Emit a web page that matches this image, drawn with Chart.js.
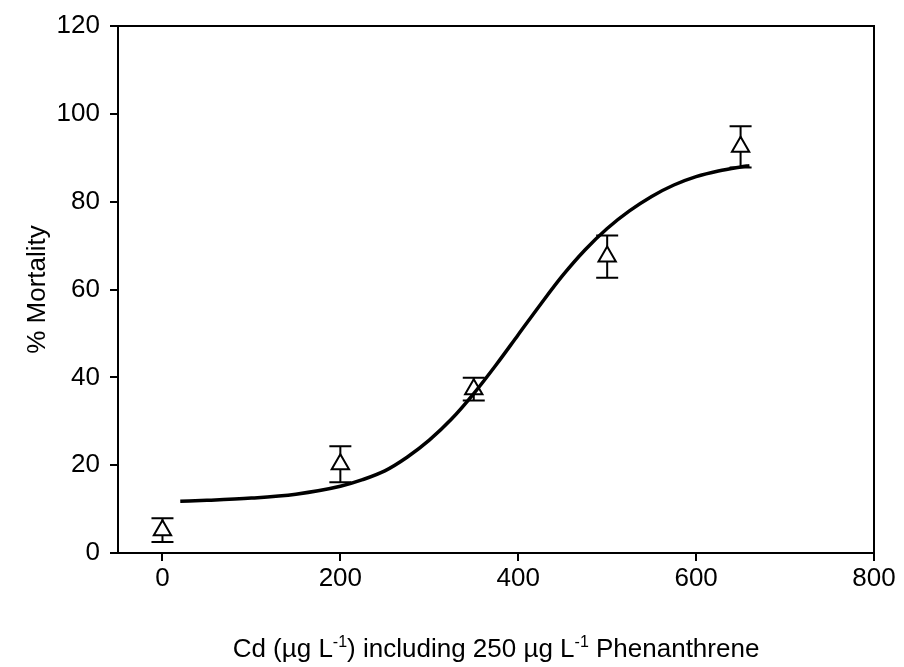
<!DOCTYPE html>
<html><head><meta charset="utf-8">
<script src="https://cdn.jsdelivr.net/npm/chart.js@4/dist/chart.umd.min.js"></script>
<style>html,body{margin:0;padding:0;background:#fff;}#wrap{width:904px;height:667px;}</style>
</head><body><div id="wrap"><canvas id="c" width="904" height="667"></canvas></div>
<script>
// Observed data (Cd concentration, % mortality, error)
const concentrations = [0, 200, 350, 500, 650];
const mortality = [5.2, 20.2, 37.3, 67.5, 92.5];
const errors = [2.7, 4.1, 2.6, 4.8, 4.7];
// Fitted curve
const fitX = [20, 50, 100, 150, 200, 225, 250, 275, 300, 325, 350, 375, 400, 425, 450, 475, 500, 525, 550, 575, 600, 625, 650, 660];
const fitY = [11.8, 12.0, 12.5, 13.4, 15.2, 16.7, 18.7, 21.8, 25.7, 30.5, 36.3, 42.8, 49.7, 56.6, 63.2, 69.0, 73.9, 77.9, 81.2, 83.8, 85.7, 87.0, 87.9, 88.2];
const xTicks = [0, 200, 400, 600, 800];
const yTicks = [0, 20, 40, 60, 80, 100, 120];
const yTitle = '% Mortality';
const xTitleParts = ['Cd (µg L', '-1', ') including 250 µg L', '-1', ' Phenanthrene'];
const xTitleSup = [false, true, false, true, false];

const FONT = '"Liberation Sans", Arial, sans-serif';

const extras = {
  id: 'extras',
  beforeDatasetsDraw(chart) {
    const {ctx, scales: {x, y}} = chart;
    ctx.save();
    ctx.strokeStyle = '#000';
    ctx.lineWidth = 2;
    concentrations.forEach((c, i) => {
      const px = x.getPixelForValue(c);
      const top = y.getPixelForValue(mortality[i] + errors[i]);
      const bot = y.getPixelForValue(mortality[i] - errors[i]);
      ctx.beginPath();
      ctx.moveTo(px, top); ctx.lineTo(px, bot);
      ctx.moveTo(px - 11, top); ctx.lineTo(px + 11, top);
      ctx.moveTo(px - 11, bot); ctx.lineTo(px + 11, bot);
      ctx.stroke();
    });
    ctx.restore();
  },
  afterDraw(chart) {
    const {ctx, chartArea: a} = chart;
    ctx.save();
    ctx.strokeStyle = '#000';
    ctx.lineWidth = 2;
    ctx.beginPath();
    ctx.moveTo(a.left, a.top); ctx.lineTo(a.right, a.top); ctx.lineTo(a.right, a.bottom);
    ctx.stroke();
    // x-axis title with superscripts
    const big = '26px ' + FONT, small = '16px ' + FONT;
    let total = 0;
    xTitleParts.forEach((t, i) => { ctx.font = xTitleSup[i] ? small : big; total += ctx.measureText(t).width; });
    let cx = (a.left + a.right) / 2 - total / 2;
    const base = 657;
    ctx.fillStyle = '#000';
    ctx.textBaseline = 'alphabetic';
    ctx.textAlign = 'left';
    xTitleParts.forEach((t, i) => {
      ctx.font = xTitleSup[i] ? small : big;
      ctx.fillText(t, cx, xTitleSup[i] ? base - 10 : base);
      cx += ctx.measureText(t).width;
    });
    ctx.restore();
  }
};

new Chart(document.getElementById('c'), {
  type: 'scatter',
  data: {
    datasets: [
      {
        type: 'line',
        data: fitX.map((v, i) => ({x: v, y: fitY[i]})),
        borderColor: '#000',
        borderWidth: 3.5,
        pointRadius: 0,
        fill: false,
        tension: 0.4,
        cubicInterpolationMode: 'monotone',
        order: 0
      },
      {
        data: concentrations.map((v, i) => ({x: v, y: mortality[i]})),
        pointStyle: 'triangle',
        pointRadius: 10,
        pointBackgroundColor: '#fff',
        pointBorderColor: '#000',
        pointBorderWidth: 2,
        order: 1
      }
    ]
  },
  options: {
    responsive: false,
    animation: false,
    devicePixelRatio: 1,
    layout: {padding: {left: 0, top: 26, right: 30, bottom: 0}},
    plugins: {legend: {display: false}, tooltip: {enabled: false}},
    scales: {
      x: {
        type: 'linear', min: -50, max: 800,
        afterBuildTicks: s => { s.ticks = xTicks.map(v => ({value: v})); },
        afterFit: s => { s.height = 114; },
        ticks: {color: '#000', font: {family: FONT, size: 26}, padding: 2, maxRotation: 0},
        grid: {display: true, drawOnChartArea: false, drawTicks: true, tickLength: 8, color: '#000', lineWidth: 2},
        border: {display: true, color: '#000', width: 2},
        title: {display: false}
      },
      y: {
        type: 'linear', min: 0, max: 120,
        afterBuildTicks: s => { s.ticks = yTicks.map(v => ({value: v})); },
        afterFit: s => { s.width = 118; },
        ticks: {color: '#000', font: {family: FONT, size: 26}, padding: 10},
        grid: {display: true, drawOnChartArea: false, drawTicks: true, tickLength: 8, color: '#000', lineWidth: 2},
        border: {display: true, color: '#000', width: 2},
        title: {display: true, text: yTitle, color: '#000', font: {family: FONT, size: 26}, padding: {top: 22, bottom: 0}}
      }
    }
  },
  plugins: [extras]
});
</script></body></html>
